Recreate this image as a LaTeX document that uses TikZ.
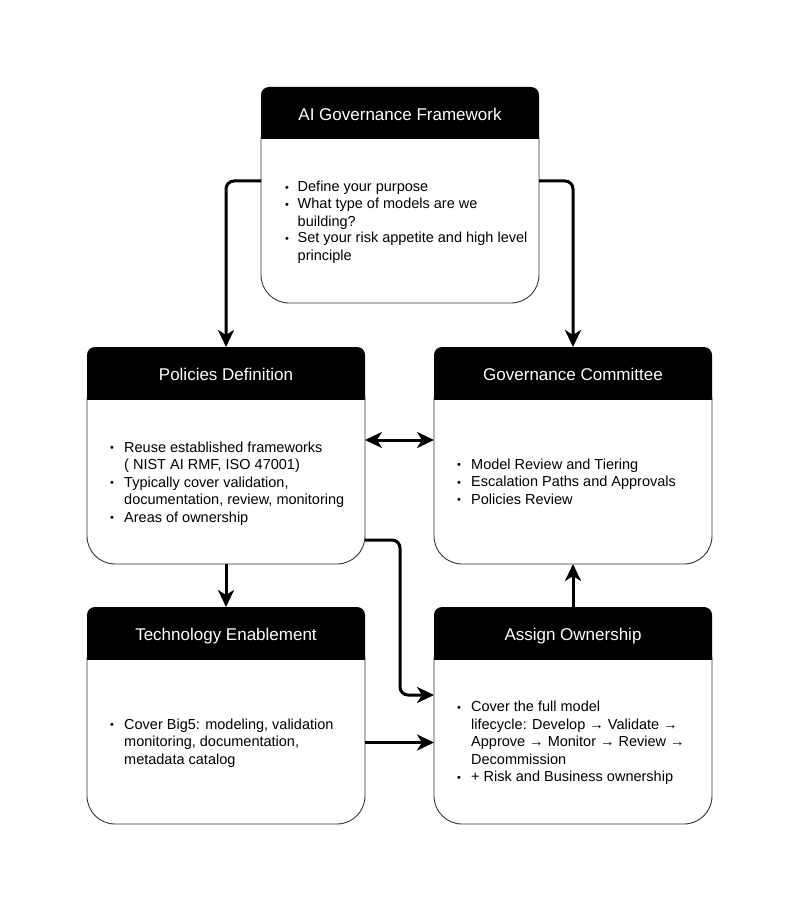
\documentclass[tikz,border=0pt]{standalone}
\usepackage{fontspec}
\setmainfont{Liberation Sans}
\usetikzlibrary{arrows.meta,calc}

\newcommand\itm[2][13.5pt]{\makebox[#1][l]{\raisebox{0.6pt}{\fontsize{11}{11}\selectfont •}}#2}
\newcommand\cnt[2][13.5pt]{\hspace*{#1}#2}

\newcommand\card[1]{%
  \begin{scope}
    \clip ([shift={(-3pt,3pt)}]#1.north west) rectangle ([shift={(3pt,-52pt)}]#1.north east);
    \fill[black, rounded corners=8pt] (#1.north west) rectangle ([yshift=-90pt]#1.north east);
  \end{scope}
  \draw[cardline] ([yshift=-50pt]#1.north west) -- (#1.south west) -- (#1.south east) -- ([yshift=-50pt]#1.north east);
}

\tikzset{
  cardarea/.style={draw=none, inner sep=0pt, outer sep=0pt, minimum width=278pt, minimum height=217pt},
  cardline/.style={draw=black!80, line width=0.9pt, rounded corners=28pt},
  cardtitle/.style={anchor=base, inner sep=0pt, text=white, font=\fontsize{17}{20}\selectfont},
  bodytext/.style={anchor=base west, inner sep=0pt, text=black, font=\fontsize{14.5}{17.5}\selectfont},
  tip/.style={Stealth[length=17pt,width=16pt,inset=5pt]},
  conn/.style={line width=3pt, rounded corners=8pt, -{Stealth[length=17pt,width=16pt,inset=5pt]}},
  dconn/.style={line width=3pt, {Stealth[length=17pt,width=16pt,inset=5pt]}-{Stealth[length=17pt,width=16pt,inset=5pt]}}
}

\begin{document}
\begin{tikzpicture}[x=1pt,y=-1pt]
  \useasboundingbox (0,0) rectangle (800,912);
  \fill[white] (0,0) rectangle (800,912);

  % card areas
  \node[cardarea, minimum height=216pt] (top) at (400,195) {};
  \node[cardarea] (pol) at (226,455.5) {};
  \node[cardarea] (gov) at (573,455.5) {};
  \node[cardarea] (tech) at (226,715.5) {};
  \node[cardarea] (asg) at (573,715.5) {};

  \card{top}
  \card{pol}
  \card{gov}
  \card{tech}
  \card{asg}

  % titles
  \node[cardtitle] (top-title) at ([yshift=-33.5pt]top.north) {AI Governance Framework};
  \node[cardtitle] (pol-title) at ([yshift=-33.5pt]pol.north) {Policies Definition};
  \node[cardtitle] (gov-title) at ([yshift=-33.5pt]gov.north) {Governance Committee};
  \node[cardtitle] (tech-title) at ([yshift=-33.5pt]tech.north) {Technology Enablement};
  \node[cardtitle] (asg-title) at ([yshift=-33.5pt]asg.north) {Assign Ownership};

  % bodies
  \node[bodytext, font=\fontsize{14.5}{17}\selectfont] (top-body) at (285,192) {\begin{tabular}[t]{@{}l@{}}
    \itm[12.5pt]{Define your purpose}\\
    \itm[12.5pt]{What type of models are we}\\
    \cnt[12.5pt]{building?}\\
    \itm[12.5pt]{Set your risk appetite and high level}\\
    \cnt[12.5pt]{principle}
  \end{tabular}};

  \node[bodytext] (pol-body) at (110,452.3) {\begin{tabular}[t]{@{}l@{}}
    \itm[14pt]{Reuse established frameworks}\\
    \cnt[14pt]{( NIST AI RMF, ISO 47001)}\\
    \itm[14pt]{Typically cover validation,}\\
    \cnt[14pt]{documentation, review, monitoring}\\
    \itm[14pt]{Areas of ownership}
  \end{tabular}};

  \node[bodytext] (gov-body) at (457,469.3) {\begin{tabular}[t]{@{}l@{}}
    \itm[14pt]{Model Review and Tiering}\\
    \itm[14pt]{Escalation Paths and Approvals}\\
    \itm[14pt]{Policies Review}
  \end{tabular}};

  \node[bodytext] (tech-body) at (110,729.3) {\begin{tabular}[t]{@{}l@{}}
    \itm[14pt]{Cover Big5: modeling, validation}\\
    \cnt[14pt]{monitoring, documentation,}\\
    \cnt[14pt]{metadata catalog}
  \end{tabular}};

  \node[bodytext] (asg-body) at (457,711.7) {\begin{tabular}[t]{@{}l@{}}
    \itm[14pt]{Cover the full model}\\
    \cnt[14pt]{lifecycle: Develop → Validate →}\\
    \cnt[14pt]{Approve → Monitor → Review →}\\
    \cnt[14pt]{Decommission}\\
    \itm[14pt]{+ Risk and Business ownership}
  \end{tabular}};

  % connectors
  \draw[conn] ([yshift=14pt]top.west) -| (pol.north);
  \draw[conn] ([yshift=14pt]top.east) -| (gov.north);
  \draw[dconn] ([yshift=15.5pt]pol.east) -- ([yshift=15.5pt]gov.west);
  \draw[conn] (pol.south) -- (tech.north);
  \draw[conn] (asg.north) -- (gov.south);
  \draw[conn] ([yshift=-84.5pt]pol.east) -- ++(35pt,0pt) |- ([yshift=20.5pt]asg.west);
  \draw[conn] ([yshift=-27pt]tech.east) -- ([yshift=-27pt]asg.west);
\end{tikzpicture}
\end{document}
